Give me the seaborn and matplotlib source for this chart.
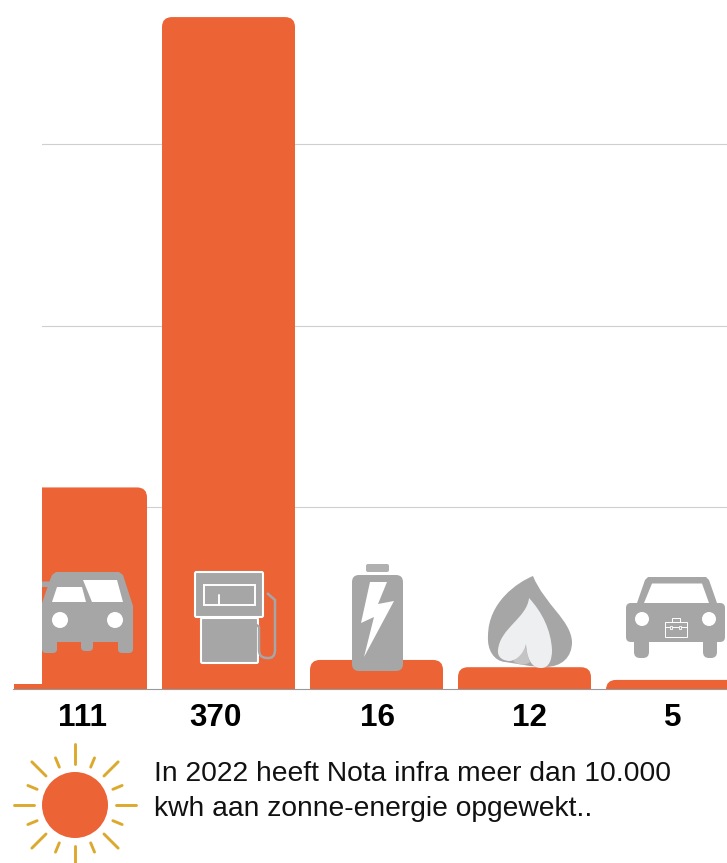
import numpy as np
import pandas as pd
import matplotlib
matplotlib.use('Agg')
import matplotlib.pyplot as plt
import seaborn as sns
from matplotlib.patches import Circle, FancyBboxPatch, PathPatch, Polygon, Rectangle
from matplotlib.path import Path

categories = ['auto', 'benzine', 'batterij', 'gas', 'bedrijfsauto']
values = [111, 370, 16, 12, 5]
gridvalues = [100, 200, 300]
label_x = [82, 215, 377, 530, 673]
note = ['In 2022 heeft Nota infra meer dan 10.000', 'kwh aan zonne-energie opgewekt..']

ORANGE = '#EC6336'
GRAY = '#A6A6A6'
GOLD = '#DCA92F'

sns.set_theme(style='white')
plt.rcParams['font.family'] = ['Liberation Sans', 'DejaVu Sans']

W, H = 727, 863
BASE = 689
fig = plt.figure(figsize=(W / 100, H / 100), dpi=100)

# grafiek zelf: as loopt van x=13 tot rand, onderkant op de basislijn
ax = fig.add_axes([13 / W, 1 - BASE / H, (W - 13) / W, BASE / H])
df = pd.DataFrame({'cat': categories, 'val': values})
sns.barplot(data=df, x='cat', y='val', color=ORANGE, width=133 / 148, saturation=1, ax=ax, legend=False)
ax.set_xlim((13 - 80.5) / 148, (W - 80.5) / 148)
ax.set_ylim(0, BASE / 1.816)
ax.set_xlabel('')
ax.set_ylabel('')
ax.set_xticks([])
ax.set_yticks(gridvalues)
ax.set_yticklabels([])
ax.tick_params(length=0)
ax.grid(axis='y', color='#CFCFCF', lw=0.8)
ax.set_axisbelow(True)
for s in ['top', 'left', 'right']:
    ax.spines[s].set_visible(False)
ax.spines['bottom'].set_color('#999999')
ax.spines['bottom'].set_linewidth(0.8)
ax.spines['bottom'].set_zorder(1)

# balken met ronde bovenhoeken
aspect = 148 / 1.816
r = 10 / 148
for p in list(ax.patches):
    x, w, h = p.get_x(), p.get_width(), p.get_height()
    p.remove()
    ax.add_patch(FancyBboxPatch((x, -30), w, h + 30, boxstyle=f'round,pad=0,rounding_size={r}',
                                mutation_aspect=aspect, fc=ORANGE, ec='none', zorder=2))

# overlay in pixels voor iconen en tekst
ov = fig.add_axes([0, 0, 1, 1])
ov.set_xlim(0, W)
ov.set_ylim(H, 0)
ov.axis('off')
ov.patch.set_visible(False)


def rbox(x0, y0, x1, y1, rad, fc=GRAY, ec='none', lw=0, z=3):
    ov.add_patch(FancyBboxPatch((x0, y0), x1 - x0, y1 - y0, boxstyle=f'round,pad=0,rounding_size={rad}',
                                fc=fc, ec=ec, lw=lw, zorder=z))


def poly(pts, fc=GRAY, z=3):
    ov.add_patch(Polygon(pts, closed=True, fc=fc, ec='none', zorder=z))


def curve(start, segs, fc=GRAY, z=3):
    verts, codes = [start], [Path.MOVETO]
    for c1, c2, end in segs:
        verts += [c1, c2, end]
        codes += [Path.CURVE4] * 3
    ov.add_patch(PathPatch(Path(verts, codes), fc=fc, ec='none', zorder=z))


# auto 1
poly([(42, 603), (50, 580), (52, 575), (56, 572), (119, 572), (123, 575), (133, 606), (133, 642), (42, 642)])
rbox(42, 630, 57, 653, 4)
rbox(118, 630, 133, 653, 4)
rbox(81, 636, 93, 651, 4)
poly([(42, 581.5), (83, 581.5), (84, 587), (42, 587)])
poly([(57, 587), (82, 587), (86, 602), (52, 602)], fc='white', z=4)
poly([(83, 580), (117, 580), (123, 602), (92, 602)], fc='white', z=4)
ov.add_patch(Circle((60, 620), 8, fc='white', ec='none', zorder=4))
ov.add_patch(Circle((115, 620), 8, fc='white', ec='none', zorder=4))

# pomp
rbox(201, 618, 258, 663, 1.5, ec='white', lw=1.5)
rbox(195, 572, 263, 617, 1.5, ec='white', lw=1.5)
ov.add_patch(Rectangle((204, 584.5), 51, 20, fc='none', ec='white', lw=1.4, zorder=4))
ov.plot([218.5, 218.5], [595, 605], color='white', lw=1.4, zorder=4)
hose = Path([(267, 593), (275, 600), (275, 650), (275, 659), (267, 658), (259, 658), (259, 650),
             (259, 628), (259, 625), (255, 625)],
            [Path.MOVETO, Path.LINETO, Path.LINETO, Path.CURVE3, Path.CURVE3, Path.CURVE3, Path.CURVE3,
             Path.LINETO, Path.CURVE3, Path.CURVE3])
ov.add_patch(PathPatch(hose, fc='none', ec=GRAY, lw=1.8, zorder=3))

# batterij
rbox(366, 564, 389, 572, 2, fc='#B0B0B0')
rbox(352, 575, 403, 671, 7)
poly([(370, 582), (387, 582), (378, 604), (394, 601), (364, 657), (374, 617), (361, 623)], fc='white', z=4)

# vlam
curve((533, 576), [((518, 582), (488, 602), (488, 636)),
                   ((487, 650), (494, 661), (505, 662)),
                   ((520, 664), (530, 667), (545, 667)),
                   ((562, 667), (572, 657), (572, 642)),
                   ((571, 620), (545, 605), (533, 576))])
curve((513, 661), [((518, 657), (522, 652), (525, 645)),
                   ((527, 652), (528, 658), (530, 662)),
                   ((525, 666), (518, 665), (513, 661))], fc='#C4C4C4', z=4)
curve((529, 598), [((527, 618), (500, 628), (498, 650)),
                   ((497, 658), (504, 661), (510, 661)),
                   ((518, 660), (524, 652), (526, 644)),
                   ((527, 658), (531, 668), (541, 668)),
                   ((549, 668), (552, 660), (552, 650)),
                   ((551, 630), (542, 612), (529, 598))], fc='#EEEFF1', z=5)

# bedrijfsauto
poly([(637, 603), (645, 580), (648, 577), (706, 577), (709, 580), (717, 603)])
rbox(626, 603, 725, 642, 5)
rbox(634, 630, 649, 658, 6)
rbox(703, 630, 717, 658, 6)
poly([(652, 583.5), (702, 583.5), (709, 603), (644, 603)], fc='white', z=4)
ov.add_patch(Circle((642, 619), 7, fc='white', ec='none', zorder=4))
ov.add_patch(Circle((709, 619), 7, fc='white', ec='none', zorder=4))
ov.add_patch(Rectangle((665, 622), 22, 15, fc='none', ec='white', lw=0.7, zorder=4))
ov.add_patch(Rectangle((672, 618), 8, 4, fc='none', ec='white', lw=0.7, zorder=4))
ov.plot([665, 687], [627, 627], color='white', lw=0.7, zorder=4)
for cx in [671, 680]:
    ov.add_patch(Rectangle((cx - 1, 626), 2, 3, fc=GRAY, ec='white', lw=0.6, zorder=5))

# witte strook links, dekt balk en lijnen af
ov.add_patch(Rectangle((0, 0), 42, 684, fc='white', ec='none', zorder=6))

# zon
sun = (75, 805)
ov.add_patch(Circle(sun, 33, fc=ORANGE, ec='none', zorder=3))
for ang in np.arange(0, 360, 45):
    a = np.radians(ang)
    ov.plot([sun[0] + 41 * np.cos(a), sun[0] + 61 * np.cos(a)], [sun[1] + 41 * np.sin(a), sun[1] + 61 * np.sin(a)],
            color=GOLD, lw=2.1, solid_capstyle='round', zorder=3)
for ang in np.arange(22.5, 360, 45):
    a = np.radians(ang)
    ov.plot([sun[0] + 41 * np.cos(a), sun[0] + 51 * np.cos(a)], [sun[1] + 41 * np.sin(a), sun[1] + 51 * np.sin(a)],
            color=GOLD, lw=2.1, solid_capstyle='round', zorder=3)

# waarden onder de balken
for xp, v in zip(label_x, values):
    ov.text(xp, 726, str(v), ha='center', va='baseline', fontsize=22.6, fontweight='bold', color='black')

ov.text(154, 781, note[0], ha='left', va='baseline', fontsize=20.3, color='#111111')
ov.text(154, 816, note[1], ha='left', va='baseline', fontsize=20.3, color='#111111')

fig.savefig('out.png', dpi=100)
